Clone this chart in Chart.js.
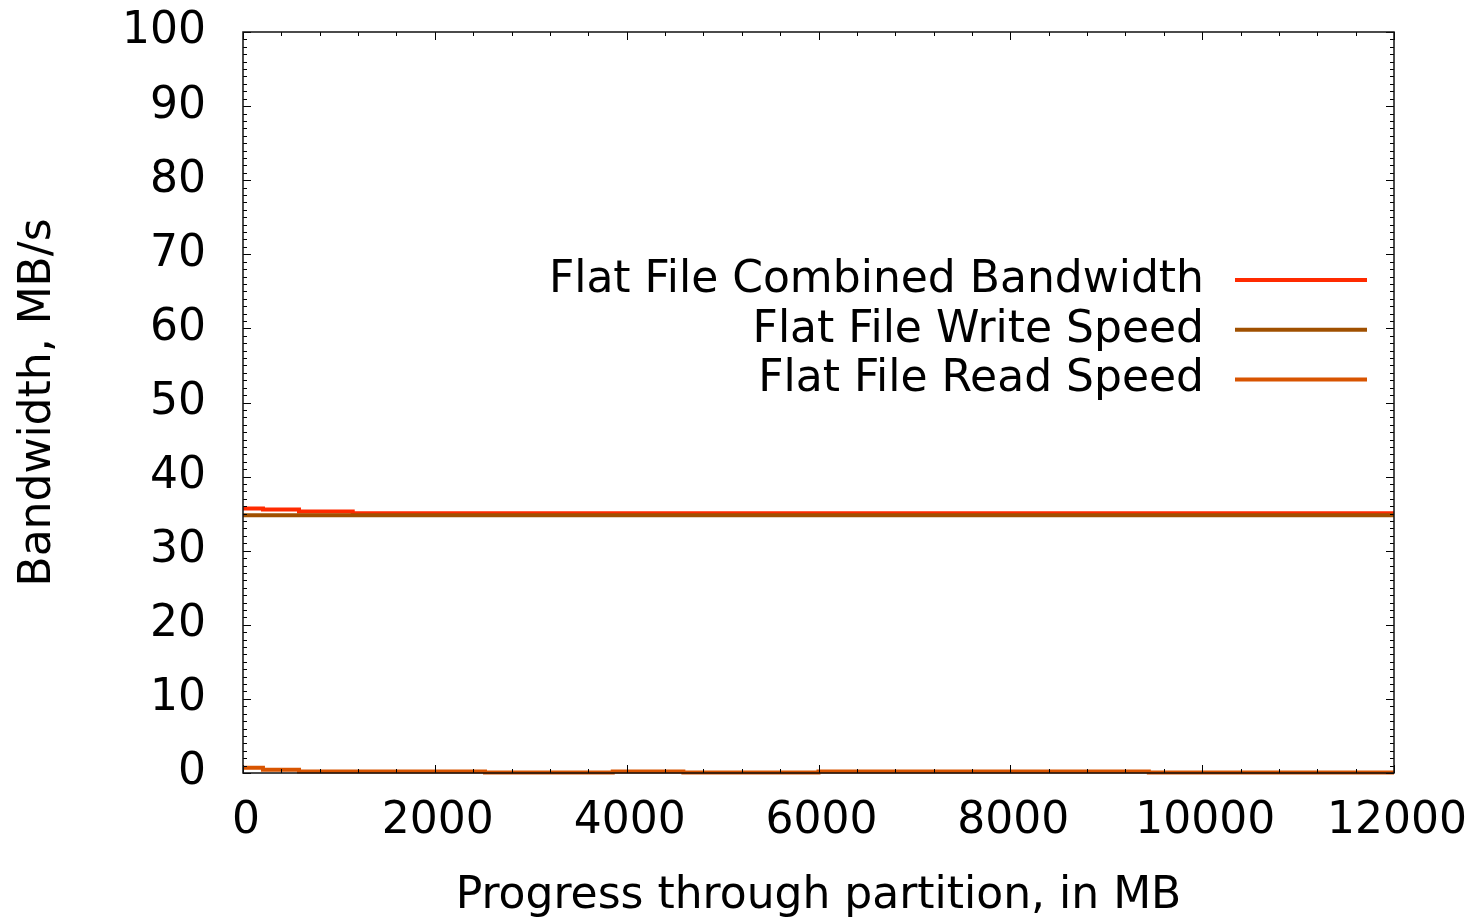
<!DOCTYPE html>
<html>
<head>
<meta charset="utf-8">
<script src="https://cdn.jsdelivr.net/npm/chart.js@4/dist/chart.umd.min.js"></script>
<style>
  html, body { margin: 0; padding: 0; background: #fff; }
  #wrap { width: 1476px; height: 921px; position: relative; }
</style>
</head>
<body>
<div id="wrap"><canvas id="c"></canvas></div>
<script>
// Progress positions (MB) where each series changes value, and the value held from there on
const combinedX = [0, 208, 584, 1144, 12000];
const combinedY = [35.7, 35.55, 35.3, 35.05, 35.05];

const writeX = [0, 12000];
const writeY = [34.8, 34.8];

const readX = [0, 208, 584, 2523, 3855, 4591, 6000, 9444, 12000];
const readY = [0.7, 0.45, 0.2, 0.07, 0.2, 0.07, 0.2, 0.07, 0.07];

const seriesNames = ['Flat File Combined Bandwidth', 'Flat File Write Speed', 'Flat File Read Speed'];
const seriesColors = ['#ff2a00', '#a05000', '#d85400'];

const xTicks = [0, 2000, 4000, 6000, 8000, 10000, 12000];
const yTicks = [0, 10, 20, 30, 40, 50, 60, 70, 80, 90, 100];

const FONT = 'DejaVu Sans';
const FONT_SIZE = 44;

function toPoints(xs, ys) {
  return xs.map((x, i) => ({ x: x, y: ys[i] }));
}

// Frame with inward major/minor ticks on all four sides
const framePlugin = {
  id: 'frame',
  afterDatasetsDraw(chart) {
    const { ctx, chartArea: a, scales } = chart;
    const xs = scales.x, ys = scales.y;
    ctx.save();
    ctx.strokeStyle = '#000';
    ctx.lineWidth = 1;
    ctx.beginPath();
    for (let v = 0; v <= 12000; v += 400) {
      const px = Math.round(xs.getPixelForValue(v)) + 0.5;
      const len = (v % 2000 === 0) ? 8 : 4;
      ctx.moveTo(px, a.bottom); ctx.lineTo(px, a.bottom - len);
      ctx.moveTo(px, a.top); ctx.lineTo(px, a.top + len);
    }
    for (let v = 0; v <= 100; v += 1) {
      const py = Math.round(ys.getPixelForValue(v)) + 0.5;
      const len = (v % 10 === 0) ? 8 : 4;
      ctx.moveTo(a.left, py); ctx.lineTo(a.left + len, py);
      ctx.moveTo(a.right, py); ctx.lineTo(a.right - len, py);
    }
    ctx.stroke();
    ctx.lineWidth = 1.5;
    ctx.strokeStyle = '#111';
    ctx.strokeRect(a.left, a.top, a.right - a.left, a.bottom - a.top);
    ctx.restore();
  }
};

// Key: right-aligned names followed by a line sample
const keyPlugin = {
  id: 'key',
  afterDraw(chart) {
    const { ctx } = chart;
    const textRight = 1204, lineStart = 1235, lineEnd = 1367;
    const firstY = 280, gap = 49.75;
    ctx.save();
    ctx.font = FONT_SIZE + 'px "' + FONT + '"';
    ctx.textAlign = 'right';
    ctx.textBaseline = 'middle';
    chart.data.datasets.forEach((ds, i) => {
      const y = firstY + i * gap;
      ctx.fillStyle = '#000';
      ctx.fillText(ds.label, textRight, y + 0.5);
      ctx.strokeStyle = ds.borderColor;
      ctx.lineWidth = 4;
      ctx.beginPath();
      ctx.moveTo(lineStart, y);
      ctx.lineTo(lineEnd, y);
      ctx.stroke();
    });
    ctx.restore();
  }
};

const datasets = [
  { label: seriesNames[0], data: toPoints(combinedX, combinedY), borderColor: seriesColors[0], order: 3 },
  { label: seriesNames[1], data: toPoints(writeX, writeY), borderColor: seriesColors[1], order: 2 },
  { label: seriesNames[2], data: toPoints(readX, readY), borderColor: seriesColors[2], order: 1 }
].map(d => Object.assign(d, {
  borderWidth: 4,
  stepped: 'before',
  pointRadius: 0,
  fill: false,
  clip: false,
  tension: 0
}));

new Chart(document.getElementById('c'), {
  type: 'line',
  data: { datasets: datasets },
  options: {
    responsive: true,
    maintainAspectRatio: false,
    animation: false,
    devicePixelRatio: 1,
    layout: { autoPadding: false, padding: { top: 32, right: 82, left: 0, bottom: 0 } },
    plugins: { legend: { display: false }, tooltip: { enabled: false } },
    scales: {
      x: {
        type: 'linear',
        min: 0, max: 12000,
        afterBuildTicks(scale) { scale.ticks = xTicks.map(v => ({ value: v })); },
        afterFit(scale) { scale.height = 148; scale.paddingLeft = 0; scale.paddingRight = 0; },
        grid: { display: false, drawTicks: false, tickLength: 0 },
        border: { display: false },
        ticks: {
          color: '#000',
          padding: 22,
          labelOffset: 3,
          maxRotation: 0,
          autoSkip: false,
          callback: v => String(v),
          font: { family: FONT, size: FONT_SIZE }
        },
        title: {
          display: true,
          text: 'Progress through partition, in MB',
          color: '#000',
          font: { family: FONT, size: FONT_SIZE, lineHeight: 1.0 },
          padding: { top: 0, bottom: 2 }
        }
      },
      y: {
        type: 'linear',
        min: 0, max: 100,
        afterBuildTicks(scale) { scale.ticks = yTicks.map(v => ({ value: v })); },
        afterFit(scale) { scale.width = 243; scale.paddingTop = 0; scale.paddingBottom = 0; },
        grid: { display: false, drawTicks: false, tickLength: 0 },
        border: { display: false },
        ticks: {
          color: '#000',
          padding: 37,
          autoSkip: false,
          callback: v => String(v),
          font: { family: FONT, size: FONT_SIZE }
        },
        title: {
          display: true,
          text: 'Bandwidth, MB/s',
          color: '#000',
          font: { family: FONT, size: FONT_SIZE, lineHeight: 1.2 },
          padding: { top: 12, bottom: 0 }
        }
      }
    }
  },
  plugins: [framePlugin, keyPlugin]
});
</script>
</body>
</html>
